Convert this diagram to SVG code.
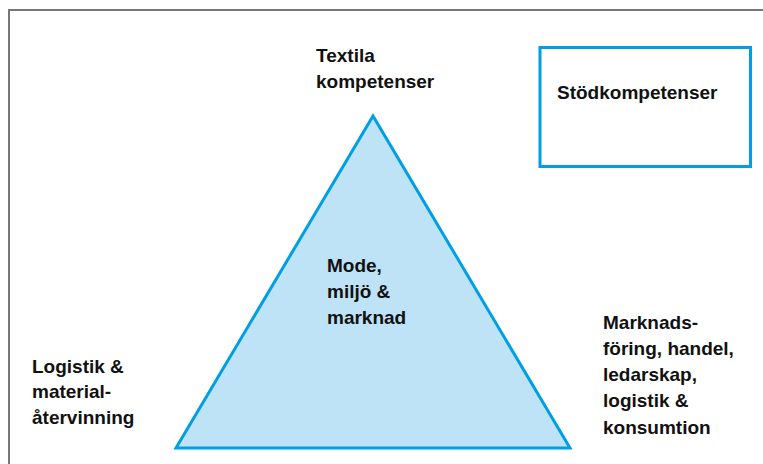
<svg xmlns="http://www.w3.org/2000/svg" width="763" height="464" viewBox="0 0 763 464">
<style>
text{font-family:"Liberation Sans",Arial,sans-serif;font-weight:bold;font-size:19px;fill:#111}
.blue{stroke:#009FE3;stroke-width:3}
</style>
<rect width="763" height="464" fill="#fff"/>
<g id="frame"><path d="M9,464 V10 H763" fill="none" stroke="#777" stroke-width="2"/></g>
<g id="connectors"></g>
<g id="triangle">
<polygon class="blue" points="373,116 176,448 570,448" fill="#BEE3F6" stroke-linejoin="miter"/>
<text x="327" y="272">Mode,</text>
<text x="327" y="298">miljö &amp;</text>
<text x="327" y="324">marknad</text>
</g>
<g id="textila">
<text x="316" y="62">Textila</text>
<text x="316" y="88">kompetenser</text>
</g>
<g id="stod">
<rect class="blue" x="540" y="47.5" width="210.5" height="119" fill="none"/>
<text x="557" y="99">Stödkompetenser</text>
</g>
<g id="logistik">
<text x="32" y="373">Logistik &amp;</text>
<text x="32" y="398">material-</text>
<text x="32" y="424">återvinning</text>
</g>
<g id="marknad">
<text x="603" y="329">Marknads-</text>
<text x="603" y="355">föring, handel,</text>
<text x="603" y="381">ledarskap,</text>
<text x="603" y="407">logistik &amp;</text>
<text x="603" y="434">konsumtion</text>
</g>
</svg>
